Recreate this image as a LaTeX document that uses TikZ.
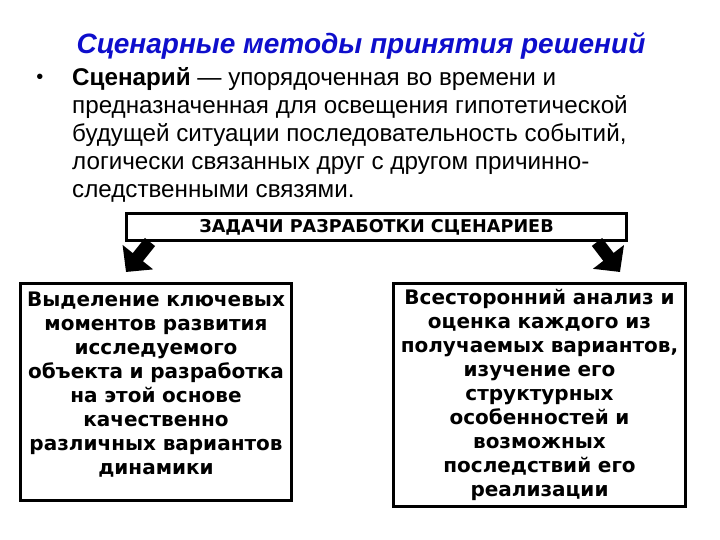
\documentclass[tikz,border=0pt]{standalone}
\usepackage{fontspec}
\usepackage{xcolor}
\usepackage{tikz}
\usetikzlibrary{positioning, arrows.meta}
\setmainfont{Liberation Sans}
\newfontfamily\boxfont{DejaVu Sans}
\definecolor{titleblue}{HTML}{0E0ECC}

\tikzset{
  taskbox/.style={draw, line width=3pt, fill=white, align=center,
        font=\boxfont\bfseries\fontsize{20}{24}\selectfont},
  bigarrow/.style={line width=13pt, -{Triangle[length=19pt, width=38pt]}}
}

\begin{document}
\begin{tikzpicture}[x=1pt, y=1pt]
  \useasboundingbox (0,0) rectangle (720,540);
  \node (title) at (361,494) {\fontsize{28}{32}\selectfont\bfseries\itshape\color{titleblue}%
    Сценарные методы принятия решений};
  \node[anchor=north west, inner sep=0pt, align=left,
        font=\fontsize{24.2}{28}\selectfont] (def) at (72,473) {%
    \textbf{Сценарий} — упорядоченная во времени и\\
    предназначенная для освещения гипотетической\\
    будущей ситуации последовательность событий,\\
    логически связанных друг с другом причинно-\\
    следственными связями.};
  \node[font=\fontsize{20}{24}\selectfont] (bullet) at (40,461) {•};
  \node[draw, line width=3pt, minimum width=500pt, minimum height=27pt,
        font=\boxfont\bfseries\fontsize{17.6}{20}\selectfont] (task) at (376.5,313)
    {ЗАДАЧИ РАЗРАБОТКИ СЦЕНАРИЕВ};
  \node[taskbox, text width=264pt, minimum height=217pt] (keys) at (156,148)
    {Выделение ключевых\\ моментов развития\\ исследуемого\\ объекта и разработка\\
     на этой основе\\ качественно\\ различных вариантов\\ динамики\\[-6pt]~};
  \node[taskbox, text width=285pt, minimum height=223pt] (analysis) at (539.5,145)
    {Всесторонний анализ и\\ оценка каждого из\\ получаемых вариантов,\\ изучение его\\
     структурных\\ особенностей и\\ возможных\\ последствий его\\ реализации};
  \coordinate (lefttip) at (126,268);
  \coordinate (righttip) at (620,268);
  \draw[bigarrow] ([xshift=25pt]task.south west) -- (lefttip);
  \draw[bigarrow] ([xshift=-31pt]task.south east) -- (righttip);
\end{tikzpicture}
\end{document}
